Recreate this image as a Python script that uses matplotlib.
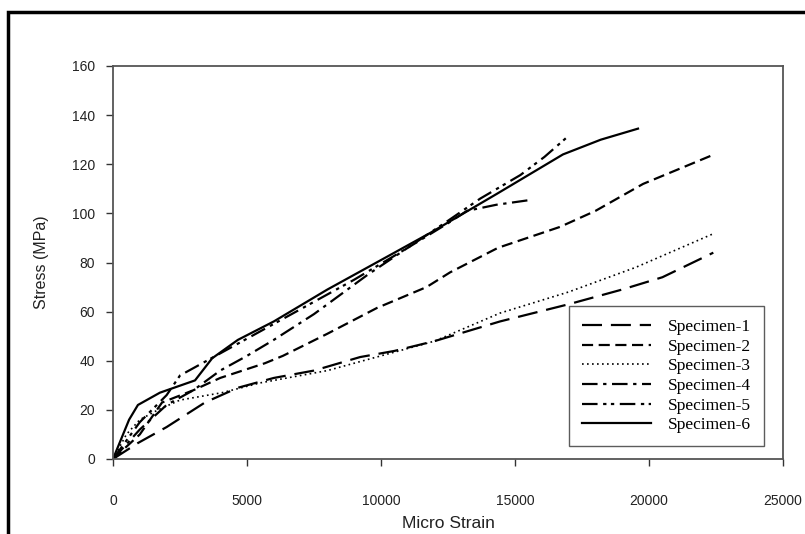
import matplotlib
matplotlib.use("Agg")
import matplotlib.pyplot as plt
from matplotlib.patches import Rectangle

# Data (micro strain, stress MPa)
s1_x = [0, 930, 2000, 3430, 4660, 6000, 7500, 9220, 10500, 12000, 14440, 17000, 19000, 20500, 22400]
s1_y = [0, 6.5, 13, 23, 29, 33, 36, 41.5, 44, 48, 56, 63, 69, 74, 84]

s2_x = [0, 1000, 1830, 3000, 4000, 5670, 6340, 8000, 9850, 11700, 12580, 14370, 16680, 18000, 19780, 22430]
s2_y = [0, 10, 23, 28, 33, 39, 42, 51, 61.5, 70, 76, 86, 94.5, 101, 112, 124]

s3_x = [0, 500, 1000, 1680, 2500, 4070, 5500, 8000, 10000, 12000, 14440, 17000, 19500, 22460]
s3_y = [0, 10, 16, 20, 24, 27, 31, 36, 42, 48, 59.4, 68, 78, 92]

s4_x = [0, 1000, 2000, 3000, 4000, 5000, 6000, 7500, 9500, 11000, 12500, 13200, 14300, 15600]
s4_y = [0, 12, 22, 28, 36, 42, 48.5, 59, 75, 86, 96, 101, 103.5, 105.5]

s5_x = [0, 1000, 2000, 2500, 3000, 4000, 5000, 7000, 9000, 11000, 12500, 13700, 15200, 16100, 16940]
s5_y = [0, 15, 26, 34, 37, 43, 49, 61, 73, 86, 97, 106, 115.6, 123, 131]

s6_x = [0, 300, 600, 930, 1750, 3060, 3700, 4660, 6000, 8000, 10000, 11830, 14330, 16790, 18200, 19590]
s6_y = [0, 8, 16, 22, 27, 32, 41, 48.5, 56, 69, 81, 92, 108, 124, 130, 134.5]

labels = ["Specimen-1", "Specimen-2", "Specimen-3", "Specimen-4", "Specimen-5", "Specimen-6"]
x_ticks = [0, 5000, 10000, 15000, 20000, 25000]
y_ticks = [0, 20, 40, 60, 80, 100, 120, 140, 160]

fig = plt.figure(figsize=(8.05, 5.34), dpi=100)
ax = fig.add_axes([113/805, 1-459/534, 670/805, 393/534])

lw = 1.6
ax.plot(s1_x, s1_y, color="black", lw=lw, dashes=(9, 4), label=labels[0])
ax.plot(s2_x, s2_y, color="black", lw=lw, dashes=(5, 2.5), label=labels[1])
ax.plot(s3_x, s3_y, color="black", lw=1.2, dashes=(1, 2), label=labels[2])
ax.plot(s4_x, s4_y, color="black", lw=lw, dashes=(7, 2.5, 1.5, 2.5), label=labels[3])
ax.plot(s5_x, s5_y, color="black", lw=lw, dashes=(7, 2.5, 1.5, 2, 1.5, 2.5), label=labels[4])
ax.plot(s6_x, s6_y, color="black", lw=lw, label=labels[5])

ax.set_xlim(0, 25000)
ax.set_ylim(0, 160)
ax.set_xticks(x_ticks)
ax.set_yticks(y_ticks)
ax.tick_params(direction="out", length=5, width=1, colors="#333333", labelsize=10)
ax.tick_params(axis="x", pad=20)
ax.tick_params(axis="y", pad=8)
for lab in ax.get_xticklabels() + ax.get_yticklabels():
    lab.set_fontfamily("Liberation Sans")
    lab.set_color("#222222")
for sp in ax.spines.values():
    sp.set_color("#555555")
    sp.set_linewidth(1.3)

ax.set_xlabel("Micro Strain", fontfamily="Liberation Sans", fontsize=12.5, labelpad=6, color="#222222")
ax.set_ylabel("Stress (MPa)", fontfamily="Liberation Sans", fontsize=11.5, labelpad=16, color="#222222")

leg = ax.legend(loc="upper left", bbox_to_anchor=(456/670, 153/393), frameon=True,
                fancybox=False, prop={"family": "Liberation Serif", "size": 12.5},
                handlelength=4.0, labelspacing=0.2, borderpad=0.75, handletextpad=0.95,
                borderaxespad=0)
leg.get_frame().set_edgecolor("#333333")
leg.get_frame().set_linewidth(1.0)

# outer frame
fig.patches.append(Rectangle((8/805, -0.2), 1.2, 1-12/534+0.2, transform=fig.transFigure,
                             fill=False, edgecolor="black", linewidth=2.5, clip_on=False))

fig.savefig("out.png", dpi=100)
